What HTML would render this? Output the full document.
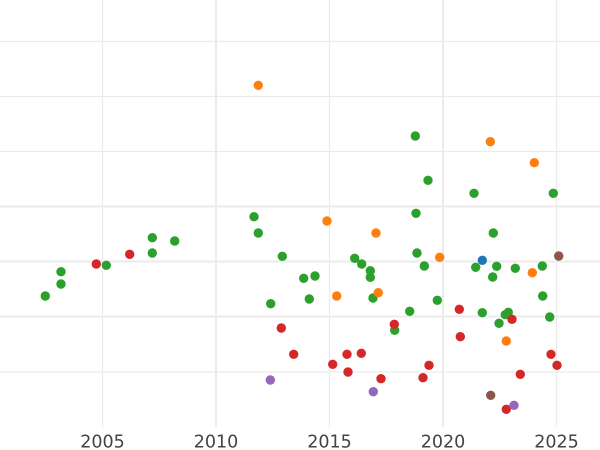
<!DOCTYPE html>
<html><head><meta charset="utf-8"><style>
html,body{margin:0;padding:0;background:#fff;}
svg{display:block;}
text{font-family:"DejaVu Sans","Liberation Sans",sans-serif;font-size:17.5px;fill:#444;}
</style></head><body>
<svg width="600" height="450" viewBox="0 0 600 450" xmlns="http://www.w3.org/2000/svg">
<rect width="600" height="450" fill="#fff"/>
<path stroke="#ebebeb" stroke-width="1.2" fill="none" d="M0 41.5H600M0 96.5H600M0 151.5H600M0 372H600M102.5 0V427M329.5 0V427M556.5 0V427"/>
<path stroke="#ebebeb" stroke-width="2" fill="none" d="M0 206.5H600M0 261.5H600M0 316.5H600M216 0V427M443 0V427"/>
<g text-anchor="middle">
<text x="102.5" y="447.5">2005</text>
<text x="216" y="447.5">2010</text>
<text x="329.5" y="447.5">2015</text>
<text x="443" y="447.5">2020</text>
<text x="556.5" y="447.5">2025</text>
</g>
<g fill="none" stroke-linecap="round" stroke-width="9.4">
<path stroke="#2ca02c" d="M254 216.7h0M415.3 136h0M428 180.3h0M474 193.3h0M553.3 193.3h0M416 213.3h0M152.3 237.7h0M174.7 241h0M258.3 233h0M152.3 253h0M106.3 265.3h0M282.3 256.3h0M61 271.7h0M61 284h0M45.3 296h0M270.7 303.7h0M493.3 233h0M417 253h0M354.7 258.3h0M361.7 264h0M424.3 266h0M475.7 267.3h0M496.7 266.3h0M515.3 268.3h0M542.3 266h0M370.3 270.7h0M370.3 277.3h0M303.7 278.3h0M315 276h0M492.7 277h0M309.3 299h0M373 298h0M437.3 300.3h0M542.7 296h0M409.7 311.3h0M482.3 312.7h0M505.3 314.7h0M508.3 312.3h0M549.7 317h0M499 323.3h0M394.7 330.3h0"/>
<path stroke="#ff7f0e" d="M258.3 85.3h0M490.3 141.7h0M534.3 162.7h0M327 221h0M376 233h0M439.7 257.3h0M532.3 272.7h0M336.7 296h0M378.3 292.7h0M506.3 341h0"/>
<path stroke="#d62728" d="M129.7 254.3h0M96.3 264h0M281.3 328h0M293.7 354.3h0M459.3 309.3h0M512 319.3h0M394.3 324.3h0M460.3 336.7h0M347 354.3h0M361.3 353.3h0M551 354.3h0M332.7 364.3h0M429 365.3h0M557 365.3h0M348 372h0M520.3 374.3h0M381 378.7h0M423 377.7h0M506.3 409.3h0"/>
<path stroke="#9467bd" d="M270.3 380h0M373.3 391.7h0M514 405.3h0"/>
<path stroke="#8c564b" d="M558.7 256h0M490.7 395.3h0"/>
<path stroke="#1f77b4" d="M482.3 260.3h0"/>
</g>
</svg>
</body></html>
